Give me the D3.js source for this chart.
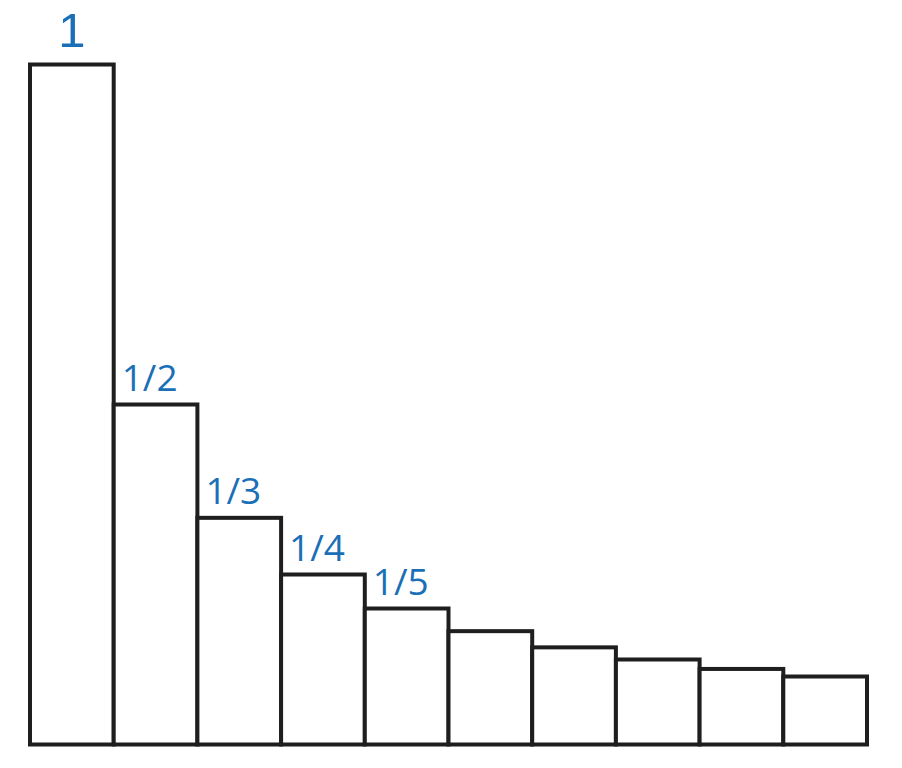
<!DOCTYPE html>
<meta charset="utf-8">
<script src="https://d3js.org/d3.v7.min.js"></script>
<style>
body { margin: 0; background: white; }
</style>
<div id="chart"></div>
<script>
// harmonic series bars 1, 1/2, ... 1/10
var terms = ["1", "2", "3", "4", "5", "6", "7", "8", "9", "10"];
var values = [1, 1/2, 1/3, 1/4, 1/5, 1/6, 1/7, 1/8, 1/9, 1/10];
var labels = ["1", "1/2", "1/3", "1/4", "1/5", "", "", "", "", ""];

var width = 902, height = 768;

var svg = d3.select("#chart").append("svg")
    .attr("width", width)
    .attr("height", height);

var x = d3.scaleBand()
    .domain(terms)
    .range([30, 867])
    .padding(0);

var y = d3.scaleLinear()
    .domain([0, 1])
    .range([744.5, 64.5]);

svg.append("g")
  .selectAll("rect")
  .data(values)
  .enter()
  .append("rect")
    .attr("x", function(d, i) { return x(terms[i]); })
    .attr("y", function(d) { return y(d); })
    .attr("width", x.bandwidth())
    .attr("height", function(d) { return y(0) - y(d); })
    .attr("fill", "white")
    .attr("stroke", "#1e1e1e")
    .attr("stroke-width", 4);

svg.append("g")
  .selectAll("text")
  .data(values)
  .enter()
  .append("text")
    .attr("x", function(d, i) {
      return i === 0 ? x(terms[i]) + x.bandwidth() / 2 : x(terms[i]) + 8;
    })
    .attr("y", function(d, i) { return y(d) - (i === 0 ? 18 : 14); })
    .attr("text-anchor", function(d, i) { return i === 0 ? "middle" : "start"; })
    .style("font-family", function(d, i) {
      return i === 0 ? "'Liberation Sans', sans-serif" : "'Open Sans', sans-serif";
    })
    .style("font-size", function(d, i) { return i === 0 ? "49px" : "37px"; })
    .style("fill", "#1a6fb6")
    .text(function(d, i) { return labels[i]; });
</script>
